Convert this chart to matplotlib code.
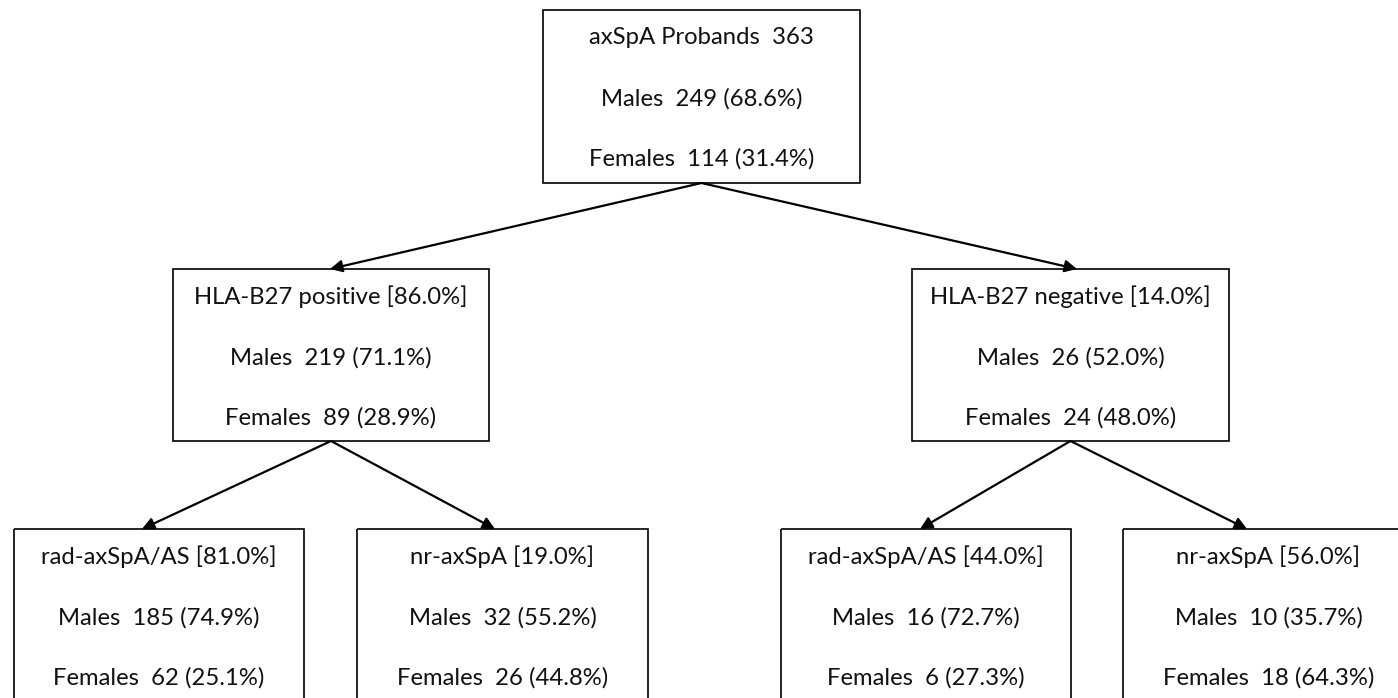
import matplotlib
matplotlib.use("Agg")
import matplotlib.pyplot as plt
from matplotlib.patches import Rectangle, FancyArrowPatch

# ---- data ----
titles = ["axSpA Probands  363",
          "HLA-B27 positive [86.0%]",
          "HLA-B27 negative [14.0%]",
          "rad-axSpA/AS [81.0%]",
          "nr-axSpA [19.0%]",
          "rad-axSpA/AS [44.0%]",
          "nr-axSpA [56.0%]"]
males_n = [249, 219, 26, 185, 32, 16, 10]
males_pct = [68.6, 71.1, 52.0, 74.9, 55.2, 72.7, 35.7]
females_n = [114, 89, 24, 62, 26, 6, 18]
females_pct = [31.4, 28.9, 48.0, 25.1, 44.8, 27.3, 64.3]
parents = [None, 0, 0, 1, 1, 2, 2]

# ---- layout (pixel space) ----
W, H = 1398, 698
boxes = [  # x0, y0, x1, y1
    (543, 10, 860, 183),
    (173, 269, 489, 441),
    (912, 269, 1229, 441),
    (14, 529, 304, 712),
    (357, 529, 648, 712),
    (781, 529, 1071, 712),
    (1123, 529, 1414, 712),
]
arrow_tips = [None, (330, 269), (1077, 269), (142, 529), (495, 529), (920, 529), (1247, 529)]
line_offsets = [28, 89, 149]

fig = plt.figure(figsize=(W / 100, H / 100), dpi=100)
ax = fig.add_axes([0, 0, 1, 1])
ax.set_xlim(0, W)
ax.set_ylim(H, 0)
ax.axis("off")

font = dict(family="Lato", fontsize=17.2, color="#111111", ha="center", va="center")

for i, (x0, y0, x1, y1) in enumerate(boxes):
    ax.add_patch(Rectangle((x0, y0), x1 - x0, y1 - y0, fill=False,
                           edgecolor="black", lw=1.2, clip_on=True))
    cx = (x0 + x1) / 2
    lines = [titles[i],
             f"Males  {males_n[i]} ({males_pct[i]:.1f}%)",
             f"Females  {females_n[i]} ({females_pct[i]:.1f}%)"]
    for off, t in zip(line_offsets, lines):
        ax.text(cx, y0 + off, t, **font)

for i, p in enumerate(parents):
    if p is None:
        continue
    px0, py0, px1, py1 = boxes[p]
    start = ((px0 + px1) / 2, py1)
    arr = FancyArrowPatch(start, arrow_tips[i], arrowstyle="-|>", mutation_scale=18,
                          lw=1.6, color="black", shrinkA=0, shrinkB=0)
    ax.add_patch(arr)

fig.savefig("out.png", dpi=100)
